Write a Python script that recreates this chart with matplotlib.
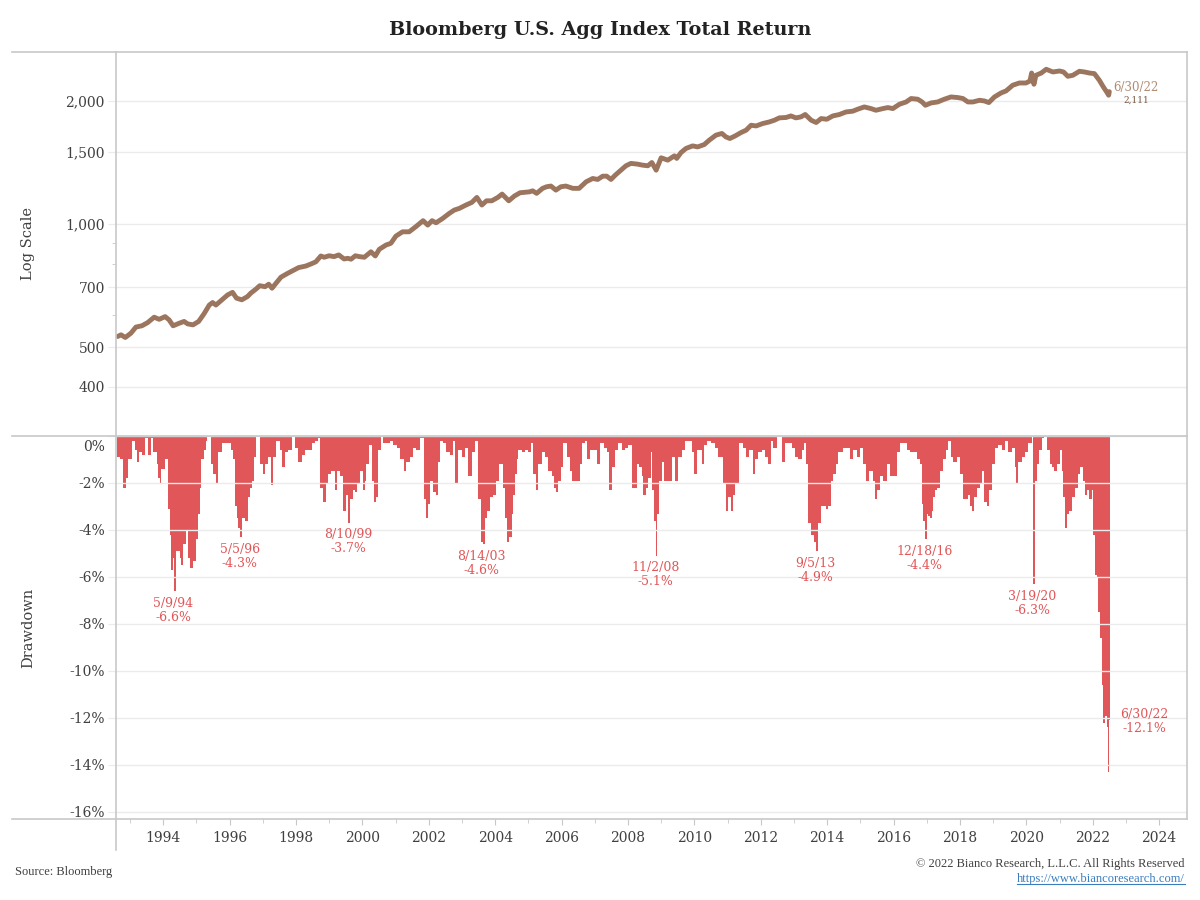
import numpy as np
import matplotlib
matplotlib.use('Agg')
import matplotlib.pyplot as plt
from matplotlib.lines import Line2D
from matplotlib.ticker import FixedLocator, NullFormatter
from matplotlib.transforms import ScaledTranslation

# index level (decimal year, value)
idx_year = [1992.63, 1992.73, 1992.86, 1993.03, 1993.18, 1993.36, 1993.53, 1993.73, 1993.88, 1994.06,
            1994.18, 1994.30, 1994.48, 1994.63, 1994.74, 1994.90, 1995.07, 1995.24, 1995.39, 1995.49,
            1995.59, 1995.79, 1995.94, 1996.09, 1996.21, 1996.37, 1996.54, 1996.64, 1996.79, 1996.91,
            1997.07, 1997.18, 1997.28, 1997.40, 1997.55, 1997.75, 1997.95, 1998.08, 1998.30, 1998.45,
            1998.60, 1998.75, 1998.85, 1999.00, 1999.15, 1999.29, 1999.45, 1999.56, 1999.66, 1999.79,
            1999.91, 2000.06, 2000.26, 2000.39, 2000.51, 2000.71, 2000.86, 2001.01, 2001.21, 2001.41,
            2001.61, 2001.83, 2001.97, 2002.10, 2002.22, 2002.42, 2002.62, 2002.77, 2002.92, 2003.12,
            2003.30, 2003.45, 2003.60, 2003.74, 2003.90, 2004.08, 2004.21, 2004.41, 2004.58, 2004.75,
            2005.03, 2005.13, 2005.25, 2005.43, 2005.55, 2005.68, 2005.83, 2005.98, 2006.13, 2006.34,
            2006.53, 2006.74, 2006.94, 2007.09, 2007.24, 2007.36, 2007.49, 2007.62, 2007.79, 2007.94,
            2008.09, 2008.29, 2008.44, 2008.60, 2008.72, 2008.85, 2009.00, 2009.20, 2009.40, 2009.47,
            2009.60, 2009.75, 2009.95, 2010.10, 2010.30, 2010.45, 2010.65, 2010.83, 2010.95, 2011.07,
            2011.23, 2011.41, 2011.56, 2011.71, 2011.86, 2012.06, 2012.26, 2012.41, 2012.56, 2012.76,
            2012.91, 2013.06, 2013.21, 2013.34, 2013.52, 2013.67, 2013.82, 2013.99, 2014.17, 2014.37,
            2014.57, 2014.77, 2014.92, 2015.12, 2015.32, 2015.47, 2015.68, 2015.83, 2015.98, 2016.18,
            2016.38, 2016.53, 2016.73, 2016.86, 2016.96, 2017.13, 2017.33, 2017.53, 2017.73, 2017.94,
            2018.09, 2018.24, 2018.39, 2018.59, 2018.74, 2018.87, 2019.04, 2019.24, 2019.39, 2019.59,
            2019.79, 2019.99, 2020.11, 2020.16, 2020.23, 2020.29, 2020.45, 2020.60, 2020.80, 2021.00,
            2021.12, 2021.25, 2021.40, 2021.60, 2021.75, 2021.90, 2022.05, 2022.20, 2022.32, 2022.42,
            2022.48, 2022.50]
idx_value = [531, 536, 528, 541, 560, 564, 574, 592, 585, 594,
             583, 564, 572, 578, 570, 567, 578, 605, 634, 643,
             634, 655, 671, 681, 659, 653, 665, 678, 693, 707,
             703, 713, 697, 717, 742, 758, 773, 783, 790, 799,
             809, 836, 830, 837, 833, 841, 822, 825, 821, 837,
             833, 830, 856, 836, 868, 889, 898, 935, 958, 958,
             986, 1020, 995, 1020, 1008, 1033, 1063, 1083, 1093, 1114,
             1131, 1163, 1114, 1141, 1141, 1163, 1185, 1141, 1172, 1194,
             1200, 1207, 1190, 1224, 1235, 1240, 1212, 1235, 1240, 1224,
             1224, 1270, 1294, 1287, 1311, 1311, 1287, 1319, 1356, 1390,
             1409, 1403, 1395, 1390, 1416, 1356, 1454, 1435, 1470, 1449,
             1498, 1533, 1555, 1546, 1567, 1606, 1652, 1668, 1636, 1621,
             1645, 1677, 1699, 1747, 1740, 1764, 1780, 1797, 1821, 1825,
             1841, 1821, 1831, 1856, 1797, 1774, 1814, 1807, 1841, 1856,
             1883, 1891, 1912, 1937, 1919, 1901, 1919, 1930, 1919, 1967,
             1992, 2031, 2023, 1992, 1955, 1981, 1992, 2023, 2049, 2042,
             2031, 1992, 1992, 2011, 2003, 1985, 2049, 2096, 2120, 2189,
             2217, 2217, 2242, 2345, 2201, 2315, 2345, 2395, 2359, 2372,
             2359, 2302, 2315, 2368, 2359, 2345, 2337, 2251, 2168, 2108,
             2069, 2111]

# drawdown from prior high, percent
dd_year = [1992.61, 1992.71, 1992.80, 1992.88, 1992.95, 1993.05, 1993.14, 1993.20, 1993.28, 1993.35,
           1993.45, 1993.55, 1993.62, 1993.70, 1993.80, 1993.85, 1993.90, 1993.95, 1994.05, 1994.15,
           1994.20, 1994.25, 1994.30, 1994.34, 1994.40, 1994.50, 1994.55, 1994.60, 1994.68, 1994.75,
           1994.82, 1994.90, 1995.00, 1995.05, 1995.10, 1995.15, 1995.22, 1995.29, 1995.33, 1995.43,
           1995.51, 1995.59, 1995.66, 1995.76, 1995.86, 1995.96, 1996.03, 1996.11, 1996.16, 1996.21,
           1996.26, 1996.33, 1996.39, 1996.46, 1996.51, 1996.56, 1996.63, 1996.68, 1996.73, 1996.79,
           1996.86, 1996.91, 1997.01, 1997.06, 1997.16, 1997.26, 1997.31, 1997.39, 1997.51, 1997.59,
           1997.66, 1997.77, 1997.87, 1997.97, 1998.07, 1998.17, 1998.27, 1998.37, 1998.47, 1998.57,
           1998.67, 1998.72, 1998.82, 1998.90, 1998.97, 1999.07, 1999.17, 1999.24, 1999.32, 1999.42,
           1999.50, 1999.57, 1999.64, 1999.72, 1999.77, 1999.84, 1999.92, 2000.02, 2000.07, 2000.12,
           2000.20, 2000.28, 2000.35, 2000.41, 2000.48, 2000.55, 2000.63, 2000.73, 2000.83, 2000.93,
           2001.03, 2001.13, 2001.25, 2001.33, 2001.43, 2001.53, 2001.63, 2001.73, 2001.85, 2001.91,
           2001.98, 2002.05, 2002.13, 2002.21, 2002.28, 2002.35, 2002.43, 2002.53, 2002.63, 2002.73,
           2002.79, 2002.89, 2002.99, 2003.09, 2003.19, 2003.29, 2003.39, 2003.49, 2003.56, 2003.62,
           2003.69, 2003.76, 2003.84, 2003.94, 2004.04, 2004.12, 2004.23, 2004.30, 2004.35, 2004.43,
           2004.50, 2004.55, 2004.60, 2004.65, 2004.70, 2004.80, 2004.90, 2005.00, 2005.07, 2005.15,
           2005.23, 2005.30, 2005.40, 2005.50, 2005.60, 2005.70, 2005.77, 2005.83, 2005.90, 2005.97,
           2006.05, 2006.15, 2006.25, 2006.33, 2006.43, 2006.50, 2006.56, 2006.61, 2006.71, 2006.78,
           2006.86, 2006.96, 2007.08, 2007.16, 2007.28, 2007.36, 2007.44, 2007.51, 2007.61, 2007.71,
           2007.81, 2007.91, 2008.01, 2008.11, 2008.18, 2008.26, 2008.34, 2008.41, 2008.46, 2008.54,
           2008.61, 2008.68, 2008.74, 2008.79, 2008.84, 2008.89, 2008.95, 2009.02, 2009.09, 2009.17,
           2009.25, 2009.32, 2009.42, 2009.52, 2009.62, 2009.72, 2009.82, 2009.92, 2009.99, 2010.09,
           2010.22, 2010.29, 2010.39, 2010.49, 2010.62, 2010.72, 2010.79, 2010.87, 2010.95, 2011.02,
           2011.09, 2011.16, 2011.23, 2011.30, 2011.36, 2011.46, 2011.56, 2011.66, 2011.76, 2011.83,
           2011.93, 2012.03, 2012.13, 2012.23, 2012.30, 2012.38, 2012.48, 2012.56, 2012.63, 2012.73,
           2012.83, 2012.93, 2013.03, 2013.13, 2013.23, 2013.30, 2013.36, 2013.43, 2013.50, 2013.59,
           2013.67, 2013.74, 2013.81, 2013.89, 2013.97, 2014.04, 2014.11, 2014.19, 2014.27, 2014.34,
           2014.41, 2014.49, 2014.59, 2014.69, 2014.79, 2014.89, 2014.99, 2015.09, 2015.17, 2015.27,
           2015.37, 2015.44, 2015.51, 2015.59, 2015.69, 2015.79, 2015.90, 2016.00, 2016.10, 2016.20,
           2016.30, 2016.40, 2016.50, 2016.60, 2016.70, 2016.80, 2016.85, 2016.90, 2016.95, 2017.00,
           2017.05, 2017.10, 2017.15, 2017.20, 2017.25, 2017.32, 2017.40, 2017.50, 2017.58, 2017.65,
           2017.72, 2017.80, 2017.90, 2018.00, 2018.08, 2018.16, 2018.23, 2018.29, 2018.36, 2018.43,
           2018.51, 2018.59, 2018.66, 2018.73, 2018.81, 2018.89, 2018.96, 2019.06, 2019.16, 2019.26,
           2019.36, 2019.46, 2019.56, 2019.66, 2019.69, 2019.76, 2019.86, 2019.96, 2020.06, 2020.16,
           2020.19, 2020.21, 2020.26, 2020.31, 2020.39, 2020.47, 2020.54, 2020.62, 2020.70, 2020.77,
           2020.84, 2020.92, 2021.02, 2021.07, 2021.12, 2021.17, 2021.22, 2021.30, 2021.37, 2021.47,
           2021.57, 2021.62, 2021.70, 2021.77, 2021.84, 2021.90, 2021.97, 2022.02, 2022.07, 2022.12,
           2022.17, 2022.22, 2022.27, 2022.32, 2022.37, 2022.42, 2022.45, 2022.48, 2022.50]
dd_pct = [-0.9, -1.0, -2.2, -1.8, -1.0, -0.2, -0.6, -1.1, -0.7, -0.8,
          -0.1, -0.8, -0.1, -0.7, -1.2, -1.8, -2.0, -1.4, -1.0, -3.1,
          -4.2, -5.7, -5.2, -6.6, -4.9, -5.2, -5.5, -4.6, -4.0, -5.2,
          -5.6, -5.3, -4.4, -3.3, -2.2, -1.0, -0.6, -0.2, 0.0, -1.2,
          -1.6, -2.0, -0.7, -0.3, -0.3, -0.3, -0.6, -1.0, -3.0, -3.5,
          -3.9, -4.3, -3.5, -3.6, -3.6, -2.6, -2.2, -1.9, -0.9, 0.0,
          0.0, -1.2, -1.6, -1.2, -0.9, -2.1, -0.9, -0.2, -0.6, -1.3,
          -0.7, -0.6, 0.0, -0.5, -1.1, -0.8, -0.6, -0.6, -0.3, -0.2,
          -0.1, -2.2, -2.8, -2.0, -1.6, -1.5, -2.3, -1.5, -1.7, -3.2,
          -2.5, -3.7, -2.7, -2.3, -2.4, -2.0, -1.5, -2.3, -1.9, -1.2,
          -0.4, -1.9, -2.8, -2.6, -0.6, 0.0, -0.3, -0.3, -0.2, -0.4,
          -0.5, -1.0, -1.5, -1.1, -0.9, -0.5, -0.6, -0.1, -2.7, -3.5,
          -2.9, -1.9, -2.4, -2.5, -1.1, -0.2, -0.3, -0.7, -0.8, -0.2,
          -2.0, -0.6, -0.9, -0.5, -1.7, -0.7, -0.2, -2.7, -4.5, -4.6,
          -3.5, -3.2, -2.6, -2.5, -1.9, -1.2, -2.2, -3.5, -4.5, -4.3,
          -3.3, -2.5, -1.6, -1.0, -0.6, -0.7, -0.6, -0.7, -0.3, -1.6,
          -2.3, -1.2, -0.7, -0.9, -1.5, -1.7, -2.2, -2.4, -1.9, -1.3,
          -0.3, -0.9, -1.5, -1.9, -1.9, -1.9, -1.2, -0.3, -0.2, -1.0,
          -0.6, -0.6, -1.2, -0.3, -0.5, -0.7, -2.3, -1.3, -0.6, -0.3,
          -0.6, -0.5, -0.4, -2.2, -2.2, -1.2, -1.3, -1.7, -2.5, -2.2,
          -1.8, -0.7, -2.3, -3.6, -5.1, -3.3, -1.9, -1.1, -1.9, -1.9,
          -1.9, -0.9, -1.9, -0.9, -0.6, -0.2, -0.2, -0.7, -1.6, -0.6,
          -1.2, -0.4, -0.2, -0.3, -0.5, -0.9, -0.9, -2.0, -3.2, -2.6,
          -3.2, -2.5, -2.0, -2.0, -0.3, -0.5, -0.9, -0.6, -1.6, -1.0,
          -0.7, -0.6, -0.9, -1.2, -0.2, -0.5, 0.0, 0.0, -1.1, -0.3,
          -0.3, -0.5, -0.9, -1.0, -0.6, -0.3, -1.2, -3.7, -4.2, -4.5,
          -4.9, -3.7, -3.0, -3.0, -3.1, -3.0, -1.9, -1.6, -1.2, -0.7,
          -0.7, -0.5, -0.5, -1.0, -0.6, -0.9, -0.5, -1.2, -1.9, -1.5,
          -1.9, -2.7, -2.3, -1.7, -1.9, -1.2, -1.7, -1.7, -0.7, -0.3,
          -0.3, -0.6, -0.7, -0.7, -1.0, -1.2, -2.9, -3.6, -4.4, -3.3,
          -3.4, -3.5, -3.2, -2.6, -2.3, -2.2, -1.5, -1.0, -0.6, -0.2,
          -0.9, -1.1, -0.9, -1.6, -2.7, -2.7, -2.5, -3.0, -3.2, -2.6,
          -2.2, -2.0, -1.5, -2.8, -3.0, -2.3, -1.2, -0.5, -0.4, -0.6,
          -0.2, -0.7, -0.5, -1.3, -2.0, -1.1, -0.9, -0.7, -0.3, 0.0,
          -2.6, -6.3, -1.9, -1.2, -0.6, -0.1, 0.0, -0.6, -1.2, -1.3,
          -1.5, -1.2, -0.6, -1.5, -2.6, -3.9, -3.3, -3.2, -2.6, -2.2,
          -1.6, -1.3, -1.9, -2.5, -2.3, -2.7, -2.3, -4.2, -5.9, -6.0,
          -7.5, -8.6, -10.6, -12.2, -11.9, -12.4, -14.3, -13.0, -12.1]

# labelled troughs
trough_date = ['5/9/94', '5/5/96', '8/10/99', '8/14/03', '11/2/08', '9/5/13', '12/18/16', '3/19/20']
trough_year = [1994.30, 1996.31, 1999.57, 2003.59, 2008.82, 2013.64, 2016.93, 2020.18]
trough_pct = [-6.6, -4.3, -3.7, -4.6, -5.1, -4.9, -4.4, -6.3]

last_date = '6/30/22'
last_year = 2022.50
last_value = 2111
last_dd = -12.1

BROWN = '#9C755F'
RED = '#E15759'
GRID = '#EBEBEB'
BORDER = '#C8C8C8'
TXT = '#404040'

plt.rcParams['font.family'] = ['DejaVu Serif']

fig = plt.figure(figsize=(12, 9), dpi=100)
W, H = 1200.0, 900.0
L, R = 116 / W, 1187 / W
ax1 = fig.add_axes([L, 1 - 436 / H, R - L, (436 - 52) / H])
ax2 = fig.add_axes([L, 1 - 819 / H, R - L, (819 - 436) / H], sharex=ax1)

# top panel: index on log scale
ax1.plot(idx_year, idx_value, color=BROWN, lw=3.5, solid_joinstyle='round', solid_capstyle='round')
ax1.set_yscale('log')
ax1.set_ylim(303, 2640)
yt = [400, 500, 700, 1000, 1500, 2000]
ax1.yaxis.set_major_locator(FixedLocator(yt))
ax1.set_yticklabels(['{:,}'.format(v) for v in yt])
ax1.yaxis.set_minor_locator(FixedLocator([600, 800, 900]))
ax1.yaxis.set_minor_formatter(NullFormatter())
ax1.grid(axis='y', which='major', color=GRID, lw=1)
ax1.tick_params(axis='y', which='major', length=6, color=GRID, labelsize=10, labelcolor=TXT, pad=2)
ax1.tick_params(axis='y', which='minor', length=3, color=BORDER)
ax1.tick_params(axis='x', which='both', length=0, labelbottom=False)
ax1.set_ylabel('Log Scale', fontsize=10.5, color=TXT, labelpad=0)
ax1.yaxis.set_label_coords(-81 / 1071, 0.5)

ax1.annotate(last_date, (last_year, last_value), xytext=(27, 4), textcoords='offset pixels',
             ha='center', va='center', fontsize=8.5, color='#B08C72')
ax1.annotate('{:,}'.format(last_value), (last_year, last_value), xytext=(27, -9), textcoords='offset pixels',
             ha='center', va='center', fontsize=6.5, color='#7A5A45')

# bottom panel: drawdown bars
dd_year = np.array(dd_year)
widths = np.diff(dd_year, append=dd_year[-1] + 0.02)
ax2.bar(dd_year, dd_pct, width=widths, align='edge', color=RED, lw=0)
ax2.set_ylim(-16.3, 0)
dt = [0, -2, -4, -6, -8, -10, -12, -14, -16]
ax2.yaxis.set_major_locator(FixedLocator(dt))
ax2.set_yticklabels(['{}%'.format(v) for v in dt])
ax2.grid(axis='y', color=GRID, lw=1)
ax2.tick_params(axis='y', length=6, color=GRID, labelsize=10, labelcolor=TXT, pad=2)
zero_lab = ax2.yaxis.get_major_ticks()[0].label1
zero_lab.set_verticalalignment('top')
zero_lab.set_transform(zero_lab.get_transform() + ScaledTranslation(0, -3 / 72, fig.dpi_scale_trans))
ax2.set_ylabel('Drawdown', fontsize=10.5, color=TXT, labelpad=0)
ax2.yaxis.set_label_coords(-81 / 1071, 0.5)

ax2.set_xlim(1992.58, 2024.84)
ax2.xaxis.set_major_locator(FixedLocator(list(range(1994, 2025, 2))))
ax2.xaxis.set_minor_locator(FixedLocator(list(range(1993, 2025, 2))))
ax2.tick_params(axis='x', which='major', length=4, color=BORDER, labelsize=10, labelcolor=TXT, pad=5)
ax2.tick_params(axis='x', which='minor', length=3, color=BORDER)

for d, x, p in zip(trough_date, trough_year, trough_pct):
    ax2.annotate(d, (x, p), xytext=(0, -12), textcoords='offset pixels',
                 ha='center', va='center', fontsize=9, color=RED)
    ax2.annotate('{:.1f}%'.format(p), (x, p), xytext=(0, -26), textcoords='offset pixels',
                 ha='center', va='center', fontsize=9, color=RED)
ax2.annotate(last_date, (last_year, last_dd), xytext=(35, 6), textcoords='offset pixels',
             ha='center', va='center', fontsize=9, color=RED)
ax2.annotate('{:.1f}%'.format(last_dd), (last_year, last_dd), xytext=(35, -8), textcoords='offset pixels',
             ha='center', va='center', fontsize=9, color=RED)

for ax in (ax1, ax2):
    for s in ('top', 'bottom', 'left', 'right'):
        ax.spines[s].set_visible(False)


# frame lines, in pixel coordinates of the figure
def fline(x0, y0, x1, y1):
    fig.add_artist(Line2D([x0 / W, x1 / W], [1 - y0 / H, 1 - y1 / H], color=BORDER, lw=1.2))


fline(12, 52, 1187, 52)
fline(12, 436, 1187, 436)
fline(12, 819, 1187, 819)
fline(116, 52, 116, 850)
fline(1187, 52, 1187, 819)

fig.text(0.5, 1 - 30 / H, 'Bloomberg U.S. Agg Index Total Return', ha='center', va='center',
         fontsize=13.8, fontweight='bold', color='#222222')

fig.text(15 / W, 1 - 872 / H, 'Source: Bloomberg', ha='left', va='center',
         fontsize=9, color=TXT, family=['Liberation Serif'])
fig.text(1185 / W, 1 - 864 / H, '\u00a9 2022 Bianco Research, L.L.C. All Rights Reserved', ha='right',
         va='center', fontsize=9, color=TXT, family=['Liberation Serif'])
url = fig.text(1185 / W, 1 - 879 / H, 'https://www.biancoresearch.com/', ha='right', va='center',
               fontsize=9, color='#3A7DBF', family=['Liberation Serif'])
fig.canvas.draw()
bb = url.get_window_extent()
fig.add_artist(Line2D([bb.x0 / W, bb.x1 / W], [(bb.y0 + 1) / H, (bb.y0 + 1) / H], color='#3A7DBF', lw=0.8))

fig.savefig('out.png', dpi=100, facecolor='white')
